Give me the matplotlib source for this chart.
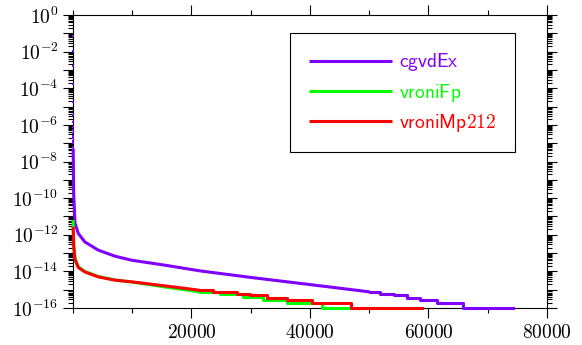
import numpy as np
import matplotlib
matplotlib.use('Agg')
import matplotlib.pyplot as plt
from matplotlib.ticker import FixedLocator, FuncFormatter, LogLocator, MultipleLocator

plt.rcParams['mathtext.fontset'] = 'cm'

# values are given as log10 of the error
cgvd_top_x = [2, 4, 6, 8, 10, 12, 14, 16, 18, 20, 22, 24, 26, 28, 30]
cgvd_top_y = [-1.13, -1.97, -2.77, -3.77, -4.74, -5.46, -5.86, -6.10, -6.28, -6.46,
              -6.59, -6.74, -6.89, -7.01, -7.19]

cgvd_x = [35, 120, 340, 900, 2000, 4270, 7090, 9900, 15500, 21400, 30000, 40000, 50100]
cgvd_y = [-7.29, -9.8, -11.37, -11.93, -12.39, -12.84, -13.17, -13.39, -13.66, -13.97,
          -14.33, -14.72, -15.12]
cgvd_step_x = [50100, 51800, 54100, 56300, 58600, 61400, 65800, 74300]
cgvd_step_y = [-15.12, -15.21, -15.30, -15.43, -15.54, -15.70, -16.0]

fp_x = [30, 120, 340, 900, 2000, 4270, 7090, 9900, 15500, 21400]
fp_y = [-11.2, -12.6, -13.3, -13.75, -14.0, -14.28, -14.47, -14.58, -14.85, -15.12]
fp_step_x = [21400, 24800, 28700, 32100, 36100, 42000, 47000]
fp_step_y = [-15.12, -15.25, -15.39, -15.54, -15.70, -16.0]

mp_x = [30, 120, 340, 900, 2000, 4270, 7090, 9900, 15500, 21400]
mp_y = [-11.57, -12.6, -13.35, -13.79, -14.03, -14.30, -14.48, -14.57, -14.79, -15.03]
mp_step_x = [21400, 23700, 27600, 29900, 32700, 36100, 40300, 47000, 58900]
mp_step_y = [-15.03, -15.13, -15.22, -15.30, -15.43, -15.54, -15.70, -16.0]

names = ['cgvdEx', 'vroniFp', 'vroniMp212']
colors = ['#8000ff', '#00ff00', '#ff0000']

fig = plt.figure(figsize=(5.82, 3.45), dpi=100)
ax = fig.add_axes([0.1254, 0.1072, 0.8144, 0.8493])

lw = 2.2
series = [(cgvd_x, cgvd_y, cgvd_step_x, cgvd_step_y),
          (fp_x, fp_y, fp_step_x, fp_step_y),
          (mp_x, mp_y, mp_step_x, mp_step_y)]
for i, ((x, y, sx, sy), name, c) in enumerate(zip(series, names, colors)):
    ax.plot(x, 10.0 ** np.array(y), color=c, lw=lw, label=name, clip_on=False,
            solid_capstyle='butt', zorder=3 + i)
    sy_full = np.append(sy, sy[-1])
    ax.step(sx, 10.0 ** sy_full, where='post', color=c, lw=lw, clip_on=False,
            zorder=3 + i)

ax.plot(cgvd_top_x, 10.0 ** np.array(cgvd_top_y), 's', color=colors[0], ms=1.8,
        mew=0, clip_on=False, zorder=3)

ax.set_yscale('log')
ax.set_xlim(0, 80000)
ax.set_ylim(1e-16, 1e0)

ax.xaxis.set_major_locator(FixedLocator([20000, 40000, 60000, 80000]))
ax.xaxis.set_minor_locator(MultipleLocator(10000))
ax.xaxis.set_major_formatter(FuncFormatter(lambda v, p: r'$%d$' % v))

ax.yaxis.set_major_locator(FixedLocator([10.0 ** k for k in range(-16, 1)]))
ax.yaxis.set_minor_locator(LogLocator(base=10, subs=np.arange(2, 10), numticks=100))


def ylab(v, p):
    k = int(round(np.log10(v)))
    if k % 2 == 0:
        return r'$10^{%d}$' % k
    return ''


ax.yaxis.set_major_formatter(FuncFormatter(ylab))
ax.yaxis.set_minor_formatter(FuncFormatter(lambda v, p: ''))

ax.tick_params(which='both', direction='out', top=True, right=True,
               labelsize=14, width=0.8, color='black')
ax.tick_params(which='major', length=7)
ax.tick_params(which='minor', length=3.5)
for s in ax.spines.values():
    s.set_linewidth(0.8)

leg = ax.legend(loc='upper right', bbox_to_anchor=(0.9325, 0.9386), borderaxespad=0,
                fontsize=14, handlelength=4.3, handletextpad=0.36, borderpad=0.95,
                labelspacing=0.42, fancybox=False, framealpha=1, edgecolor='black')
leg.get_frame().set_linewidth(0.8)
leg.set_zorder(10)
for t, c in zip(leg.get_texts(), colors):
    t.set_text(r'$\mathsf{%s}$' % t.get_text())
    t.set_color(c)

fig.savefig('out.png', dpi=100)
